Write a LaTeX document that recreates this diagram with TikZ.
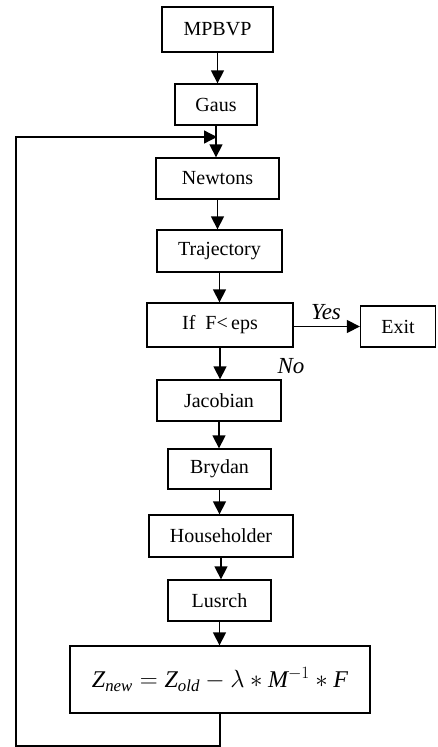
\documentclass[tikz,border=0pt]{standalone}
\usepackage{amsmath}
\usepackage{fontspec}
\setmainfont{Liberation Serif}
\usetikzlibrary{arrows.meta}
\begin{document}
\begin{tikzpicture}[x=1pt,y=-1pt,
  box/.style={draw,line width=1.3pt,rectangle,inner sep=0pt,font=\fontsize{20}{23}\selectfont},
  flow/.style={line width=1.3pt,-{Triangle[length=13pt,width=13pt]}},
  lab/.style={font=\fontsize{23}{26}\selectfont\itshape,inner sep=0pt}]
\useasboundingbox (0,0) rectangle (437,747);
\node[box,minimum width=111pt,minimum height=45pt] (mp) at (217.5,29.5) {MPBVP};
\node[box,minimum width=82pt,minimum height=41pt] (gaus) at (216,104.5) {Gaus};
\node[box,minimum width=123pt,minimum height=41pt] (newt) at (217.5,178.5) {Newtons};
\node[box,minimum width=125pt,minimum height=42pt] (traj) at (219.5,251) {Trajectory};
\node[box,minimum width=146pt,minimum height=44pt] (iff) at (220,325) {If\ \ F<\,eps};
\node[box,minimum width=75pt,minimum height=41pt] (exit) at (398,326.5) {Exit};
\node[box,minimum width=124pt,minimum height=41pt] (jac) at (219,400.5) {Jacobian};
\node[box,minimum width=103pt,minimum height=40pt] (bry) at (219.5,469) {Brydan};
\node[box,minimum width=144pt,minimum height=42pt] (house) at (221,536) {Householder};
\node[box,minimum width=103pt,minimum height=41pt] (lus) at (219.5,600.5) {Lusrch};
\node[box,minimum width=300pt,minimum height=67pt,font=\fontsize{24}{27}\selectfont] (form) at (220,679.5)
  {$\mathit{Z}_{\mathit{new}} = \mathit{Z}_{\mathit{old}} - \lambda \ast \mathit{M}^{-1} \ast \mathit{F}$};
\node[lab] (yes) at (326,312) {Yes};
\node[lab] (no) at (291,366) {No};
\coordinate (lb) at (16,746);
\coordinate (lt) at (16,137);
\coordinate (jn) at (217,137);
\draw[flow] (mp.south) -- (mp.south |- gaus.north);
\draw[flow] (gaus.south) -- (gaus.south |- newt.north);
\draw[flow] (newt.south) -- (newt.south |- traj.north);
\draw[flow] (traj.south) -- (traj.south |- iff.north);
\draw[flow] (iff.south) -- (iff.south |- jac.north);
\draw[flow] (iff.east |- exit.west) -- (exit.west);
\draw[flow] (jac.south) -- (jac.south |- bry.north);
\draw[flow] (bry.south) -- (bry.south |- house.north);
\draw[flow] (house.south) -- (house.south |- lus.north);
\draw[flow] (lus.south) -- (lus.south |- form.north);
\draw[flow] (form.south) |- (lb) -- (lt) -- (jn);
\end{tikzpicture}
\end{document}
